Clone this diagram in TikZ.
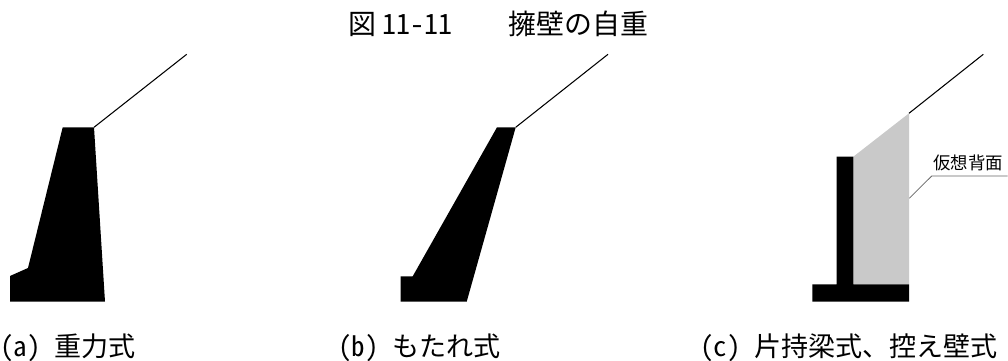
\documentclass[tikz,border=0pt]{standalone}
\usepackage{fontspec}
\newfontfamily\cjk[RawFeature=+hwid]{Noto Sans CJK JP}
\definecolor{backfill}{gray}{0.79}
\tikzset{caption/.style={anchor=west,inner sep=0pt,font=\cjk\fontsize{15.4}{17}\selectfont},
    slope/.style={line width=0.6pt},
    wall/.style={fill=black,draw=none}}
\begin{document}
\begin{tikzpicture}[x=0.02cm,y=-0.02cm]
    \useasboundingbox (0,0) rectangle (1008,361);
    \node[caption,font=\cjk\fontsize{15.9}{17}\selectfont] (title) at (348.5,24) {図\kern3.1pt 11-11\kern32pt 擁壁の自重};
    % (a)
    \fill[wall] (62.7,127.3) -- (94,127.3) -- (105,301.7) -- (10,301.7) -- (10,276) -- (28,268) -- cycle;
    \coordinate (crestA) at (94,127.3);
    \coordinate (endA) at (186.7,54.3);
    \draw[slope] (crestA) -- (endA);
    \node[caption] (capA) at (0,347.5) {(a) 重力式};
    % (b)
    \fill[wall] (497,127.3) -- (515.7,127.3) -- (466.7,301.7) -- (400.7,301.7) -- (400.7,276.3) -- (412.7,276.3) -- cycle;
    \coordinate (crestB) at (515.7,127.3);
    \coordinate (endB) at (608,54.3);
    \draw[slope] (crestB) -- (endB);
    \node[caption] (capB) at (338,347.5) {(b) もたれ式};
    % (c)
    \fill[backfill] (853.3,156.7) -- (909,113.3) -- (909,284.3) -- (853.3,284.3) -- cycle;
    \fill[wall] (836.7,156.7) -- (853.3,156.7) -- (853.3,284.3) -- (909,284.3) -- (909,301.7) -- (812.3,301.7) -- (812.3,284.3) -- (836.7,284.3) -- cycle;
    \coordinate (crestC) at (909,113.3);
    \coordinate (endC) at (983.3,54.3);
    \draw[slope] (crestC) -- (endC);
    \node[caption] (capC) at (700,347.5) {(c) 片持梁式、控え壁式};
    \node[caption,font=\cjk\fontsize{9.9}{12}\selectfont] (virt) at (933,163) {仮想背面};
    \coordinate (lineR) at (1007.7,176);
    \coordinate (lineK) at (931.7,176);
    \coordinate (lineE) at (909.3,198.3);
    \draw[black!60,line width=0.45pt] (lineR) -- (lineK) -- (lineE);
\end{tikzpicture}
\end{document}
